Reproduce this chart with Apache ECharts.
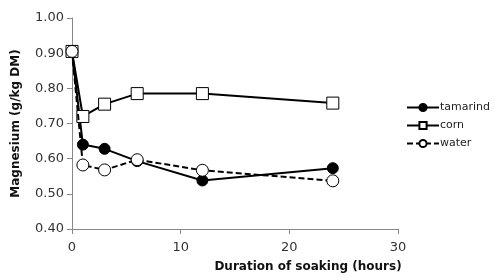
<!DOCTYPE html>
<html>
<head>
<meta charset="utf-8">
<script src="https://cdn.jsdelivr.net/npm/echarts@6/dist/echarts.min.js"></script>
<style>
  html, body { margin: 0; padding: 0; background: #fff; }
  #chart { width: 494px; height: 278px; }
</style>
</head>
<body>
<div id="chart"></div>
<script>
// soaking time (hours)
var hours = [0, 1, 3, 6, 12, 24];
var tamarind = [0.905, 0.640, 0.628, 0.593, 0.538, 0.573];
var corn = [0.905, 0.720, 0.755, 0.785, 0.785, 0.758];
var water = [0.905, 0.582, 0.568, 0.597, 0.567, 0.537];

function pairs(ys) {
    var out = [];
    for (var i = 0; i < hours.length; i++) {
        out.push([hours[i], ys[i]]);
    }
    return out;
}

var myChart = echarts.init(document.getElementById('chart'));
var font = 'DejaVu Sans, Verdana, sans-serif';

var option = {
    animation: false,
    textStyle: { fontFamily: font },
    grid: { left: 72, right: 96, top: 18, bottom: 47 },
    legend: {
        orient: 'vertical',
        left: 401,
        top: 97,
        itemWidth: 32,
        itemHeight: 9,
        itemGap: 7,
        textStyle: { fontFamily: font, fontSize: 11, color: '#222', padding: [0, 0, 0, -4] },
        data: ['tamarind', 'corn', 'water']
    },
    xAxis: {
        type: 'value',
        min: 0,
        max: 30,
        interval: 10,
        name: 'Duration of soaking (hours)',
        nameLocation: 'middle',
        nameGap: 32,
        nameTextStyle: { fontFamily: font, fontWeight: 'bold', fontSize: 12, color: '#111', padding: [0, 0, 0, 146] },
        axisLine: { lineStyle: { color: '#888', width: 1 } },
        axisTick: { show: true, inside: false, length: 5, lineStyle: { color: '#888' } },
        axisLabel: { fontFamily: font, fontSize: 13, color: '#333', margin: 12 },
        splitLine: { show: false }
    },
    yAxis: {
        type: 'value',
        min: 0.4,
        max: 1.0,
        interval: 0.1,
        name: 'Magnesium (g/kg DM)',
        nameLocation: 'middle',
        nameGap: 50,
        nameTextStyle: { fontFamily: font, fontWeight: 'bold', fontSize: 12, color: '#111' },
        axisLine: { show: true, lineStyle: { color: '#888', width: 1 } },
        axisTick: { show: true, inside: false, length: 5, lineStyle: { color: '#888' } },
        axisLabel: {
            fontFamily: font, fontSize: 13, color: '#333', margin: 8,
            formatter: function (v) { return v.toFixed(2); }
        },
        splitLine: { show: false }
    },
    series: [
        {
            name: 'tamarind',
            type: 'line',
            data: pairs(tamarind),
            symbol: 'circle',
            symbolSize: 11,
            lineStyle: { color: '#000', width: 2 },
            itemStyle: { color: '#000', borderColor: '#000', borderWidth: 1 },
            z: 3
        },
        {
            name: 'corn',
            type: 'line',
            data: pairs(corn),
            symbol: 'rect',
            symbolSize: 12,
            lineStyle: { color: '#000', width: 2 },
            itemStyle: { color: '#fff', borderColor: '#000', borderWidth: 1 },
            z: 4
        },
        {
            name: 'water',
            type: 'line',
            data: pairs(water),
            symbol: 'circle',
            symbolSize: 12,
            lineStyle: { color: '#000', width: 2, type: [6, 3] },
            itemStyle: { color: '#fff', borderColor: '#000', borderWidth: 1 },
            z: 5
        }
    ]
};

myChart.setOption(option);
</script>
</body>
</html>
